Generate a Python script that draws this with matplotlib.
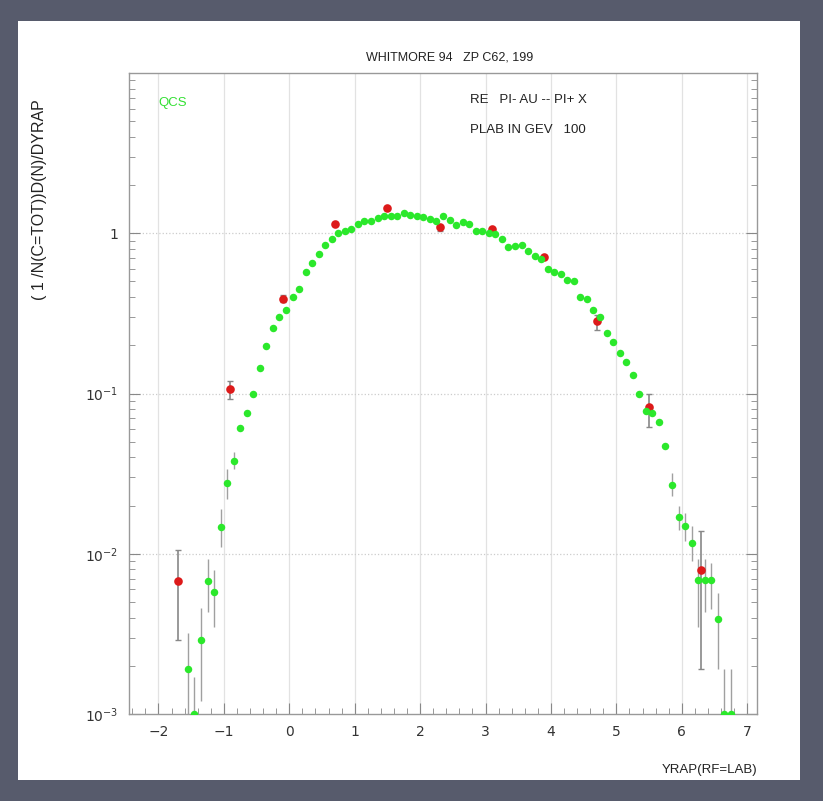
import numpy as np
import matplotlib
matplotlib.use('Agg')
import matplotlib.pyplot as plt
from matplotlib.patches import Rectangle

# green points (QCS), rapidity bins every 0.1
green_x = [-1.55, -1.45, -1.35, -1.25, -1.15, -1.05, -0.95, -0.85, -0.75, -0.65,
           -0.55, -0.45, -0.35, -0.25, -0.15, -0.05, 0.05, 0.15, 0.25, 0.35,
           0.45, 0.55, 0.65, 0.75, 0.85, 0.95, 1.05, 1.15, 1.25, 1.35,
           1.45, 1.55, 1.65, 1.75, 1.85, 1.95, 2.05, 2.15, 2.25, 2.35,
           2.45, 2.55, 2.65, 2.75, 2.85, 2.95, 3.05, 3.15, 3.25, 3.35,
           3.45, 3.55, 3.65, 3.75, 3.85, 3.95, 4.05, 4.15, 4.25, 4.35,
           4.45, 4.55, 4.65, 4.75, 4.85, 4.95, 5.05, 5.15, 5.25, 5.35,
           5.45, 5.55, 5.65, 5.75, 5.85, 5.95, 6.05, 6.15, 6.25, 6.35,
           6.45, 6.55, 6.65, 6.75]
green_y = [0.0019, 0.001, 0.0029, 0.0068, 0.0058, 0.0147, 0.0275, 0.038, 0.061, 0.076,
           0.10, 0.144, 0.197, 0.255, 0.30, 0.33, 0.40, 0.45, 0.57, 0.65,
           0.74, 0.84, 0.92, 1.01, 1.04, 1.07, 1.14, 1.19, 1.19, 1.24,
           1.28, 1.28, 1.28, 1.33, 1.30, 1.28, 1.26, 1.22, 1.19, 1.28,
           1.21, 1.12, 1.17, 1.14, 1.04, 1.03, 1.01, 0.99, 0.92, 0.82,
           0.83, 0.85, 0.77, 0.72, 0.69, 0.60, 0.57, 0.56, 0.51, 0.50,
           0.40, 0.39, 0.33, 0.30, 0.24, 0.21, 0.18, 0.158, 0.13, 0.10,
           0.078, 0.076, 0.066, 0.047, 0.027, 0.017, 0.0148, 0.0117, 0.0069, 0.0069,
           0.0069, 0.0039, 0.001, 0.001]

# error ranges for the green points where bars are visible
gerr_x = [-1.55, -1.45, -1.35, -1.25, -1.15, -1.05, -0.95, -0.85,
          5.85, 5.95, 6.05, 6.15, 6.25, 6.35, 6.45, 6.55, 6.65, 6.75]
gerr_lo = [0.001, 0.001, 0.0012, 0.0043, 0.0035, 0.011, 0.022, 0.034,
           0.023, 0.014, 0.012, 0.009, 0.0035, 0.0043, 0.0045, 0.0019, 0.001, 0.001]
gerr_hi = [0.0032, 0.0017, 0.0046, 0.0093, 0.0079, 0.019, 0.034, 0.043,
           0.032, 0.020, 0.018, 0.015, 0.0093, 0.0093, 0.0088, 0.0057, 0.0019, 0.0019]

# red points (data)
red_x = [-1.7, -0.9, -0.1, 0.7, 1.5, 2.3, 3.1, 3.9, 4.7, 5.5, 6.3]
red_y = [0.0068, 0.107, 0.39, 1.15, 1.43, 1.09, 1.06, 0.71, 0.285, 0.082, 0.0079]
red_lo = [0.0029, 0.092, 0.37, 1.12, 1.40, 1.03, 1.04, 0.69, 0.25, 0.062, 0.0019]
red_hi = [0.0106, 0.12, 0.41, 1.18, 1.46, 1.10, 1.08, 0.73, 0.31, 0.10, 0.0138]

xticks = [-2, -1, 0, 1, 2, 3, 4, 5, 6, 7]
yticks = [1e-3, 1e-2, 1e-1, 1]
ytick_labels = ['$10^{-3}$', '$10^{-2}$', '$10^{-1}$', '1']

plt.rcParams['mathtext.fontset'] = 'dejavusans'
fnt = ['Liberation Sans', 'DejaVu Sans']

fig = plt.figure(figsize=(8.23, 8.01), dpi=100, facecolor='#575b6c')
fig.patches.append(Rectangle((18/823., 21/801.), 782/823., 759/801., transform=fig.transFigure,
                             facecolor='white', edgecolor='none', zorder=-5))

ax = fig.add_axes([129/823., 87/801., 628/823., 641/801.])
ax.set_zorder(2)
ax.patch.set_alpha(0)
ax.set_yscale('log')
ax.set_xlim(-2.45, 7.15)
ax.set_ylim(1e-3, 10)

for v in xticks:
    ax.axvline(v, color='#e2e2e2', lw=0.9, zorder=0)
for v in yticks[1:]:
    ax.axhline(v, color='#cccccc', lw=0.9, ls=':', zorder=0)

# error bars
gx = np.array(gerr_x)
gidx = [green_x.index(v) for v in gerr_x]
gy = np.array(green_y)[gidx]
ax.errorbar(gx, gy, yerr=[gy - np.array(gerr_lo), np.array(gerr_hi) - gy], fmt='none',
            ecolor='#a0a0a0', elinewidth=1.0, capsize=0, zorder=2)
ry = np.array(red_y)
ax.errorbar(red_x, ry, yerr=[ry - np.array(red_lo), np.array(red_hi) - ry], fmt='none',
            ecolor='#888888', elinewidth=1.2, capsize=2.5, zorder=2)

ax.plot(red_x, red_y, 'o', color='#dd1a1a', ms=6.2, mec='none', zorder=3)
ax.plot(green_x, green_y, 'o', color='#2be82b', ms=5.4, mec='none', zorder=4)

ax.set_xticks(xticks)
ax.set_xticks(np.arange(-2.4, 7.15, 0.2), minor=True)
ax.set_yticks(yticks)
ax.set_yticklabels(ytick_labels)
ax.tick_params(axis='both', which='both', direction='in', color='#888888', labelsize=10)
ax.tick_params(axis='both', which='major', length=8, pad=8)
ax.tick_params(axis='both', which='minor', length=4)
ax.tick_params(axis='y', which='both', right=True)
for lab in ax.get_xticklabels() + ax.get_yticklabels():
    lab.set_color('#333333')
for s in ax.spines.values():
    s.set_color('#999999')
    s.set_linewidth(1.0)

ax.text(0.046, 0.953, 'QCS', transform=ax.transAxes, color='#33e033', fontsize=9.5,
        family=fnt, va='center')
ax.text(0.543, 0.958, 'RE   PI- AU -- PI+ X', transform=ax.transAxes, color='#222222',
        fontsize=9.5, family=fnt, va='center')
ax.text(0.543, 0.911, 'PLAB IN GEV   100', transform=ax.transAxes, color='#222222',
        fontsize=9.5, family=fnt, va='center')

fig.text(450/823., 1 - 57/801., 'WHITMORE 94   ZP C62, 199', ha='center', va='center',
         fontsize=9, family=fnt, color='#222222')
fig.text(40/823., 1 - 200/801., '( 1 /N(C=TOT))D(N)/DYRAP', rotation=90, ha='center',
         va='center', fontsize=11.5, family=fnt, color='#222222')
fig.text(757/823., 1 - 770/801., 'YRAP(RF=LAB)', ha='right', va='center',
         fontsize=9.5, family=fnt, color='#222222')

fig.savefig('out.png', dpi=100, facecolor=fig.get_facecolor())
